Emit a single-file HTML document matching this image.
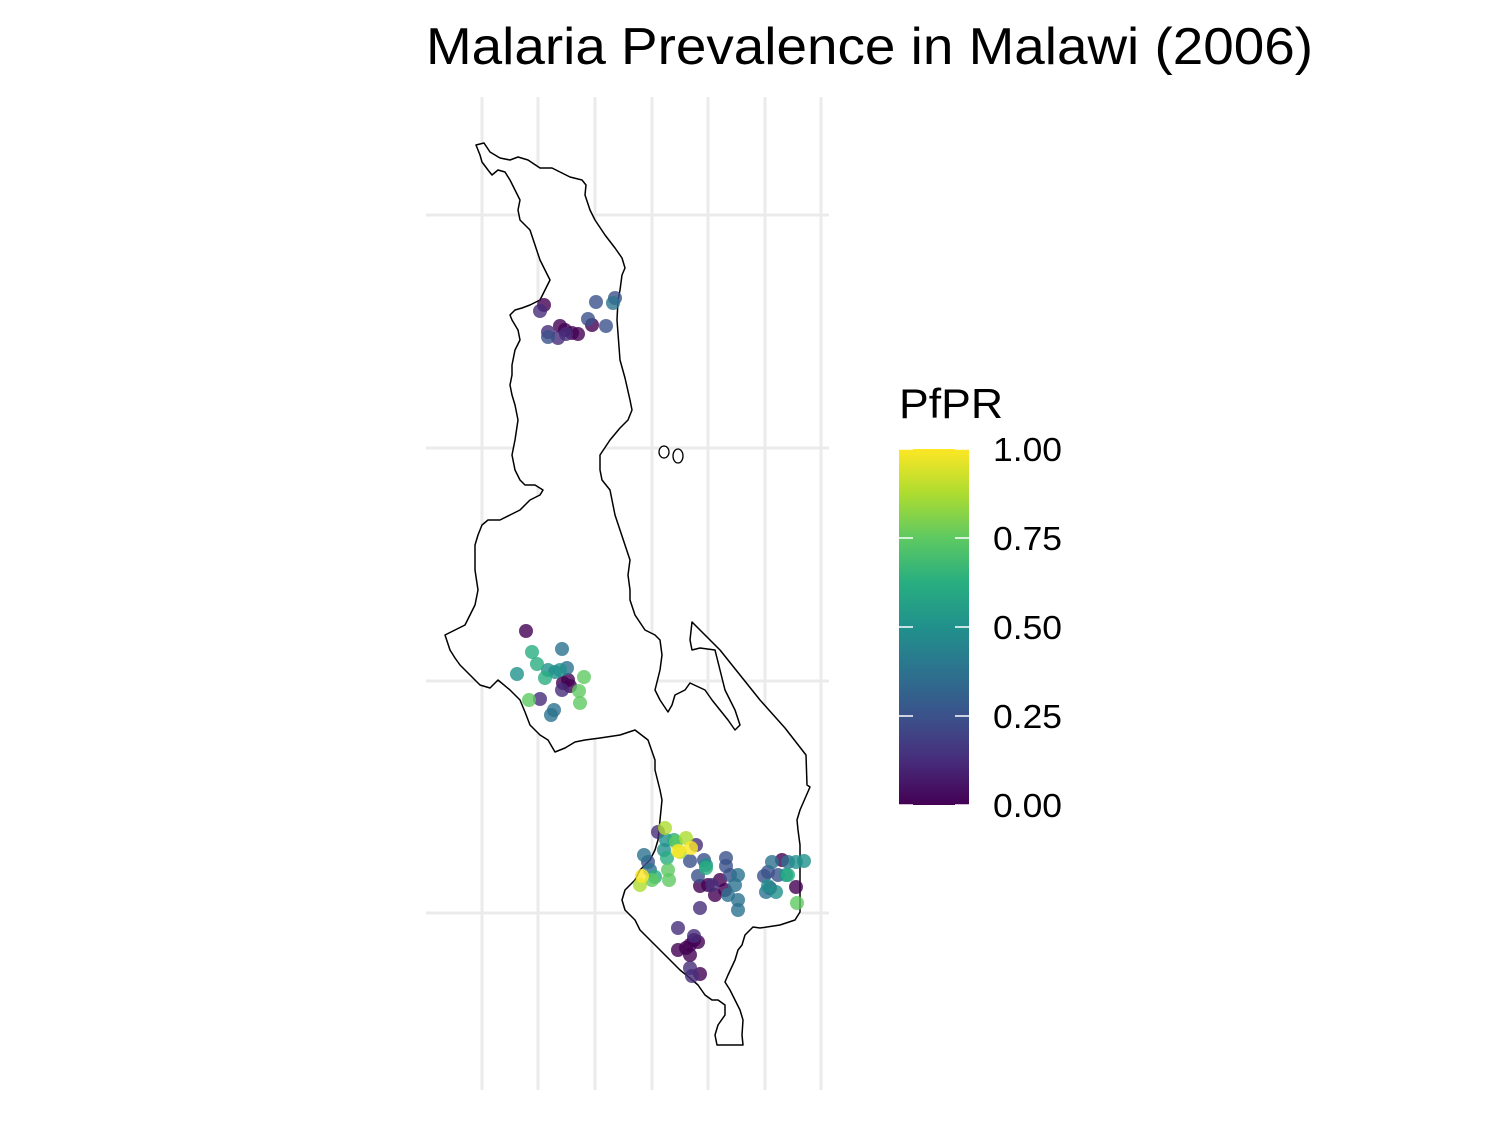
<!DOCTYPE html><html><head><meta charset="utf-8"><style>body{margin:0;background:#fff}svg{display:block}</style></head><body>
<svg width="1500" height="1125" xmlns="http://www.w3.org/2000/svg" font-family="Liberation Sans, sans-serif">
<defs><linearGradient id="v" x1="0" y1="1" x2="0" y2="0">
<stop offset="0" stop-color="#440154"/><stop offset="0.125" stop-color="#472d7b"/><stop offset="0.25" stop-color="#3b528b"/><stop offset="0.375" stop-color="#2c728e"/><stop offset="0.5" stop-color="#21918c"/><stop offset="0.625" stop-color="#28ae80"/><stop offset="0.75" stop-color="#5ec962"/><stop offset="0.875" stop-color="#addc30"/><stop offset="1" stop-color="#fde725"/></linearGradient></defs>
<text x="426" y="64" font-size="52" textLength="887" lengthAdjust="spacingAndGlyphs">Malaria Prevalence in Malawi (2006)</text>
<g stroke="#ebebeb" stroke-width="3">
<line x1="482" y1="97" x2="482" y2="1090"/><line x1="538" y1="97" x2="538" y2="1090"/><line x1="595" y1="97" x2="595" y2="1090"/><line x1="652" y1="97" x2="652" y2="1090"/><line x1="708" y1="97" x2="708" y2="1090"/><line x1="765" y1="97" x2="765" y2="1090"/><line x1="821" y1="97" x2="821" y2="1090"/>
<line x1="426" y1="215" x2="829" y2="215"/><line x1="426" y1="448" x2="829" y2="448"/><line x1="426" y1="681" x2="829" y2="681"/><line x1="426" y1="913" x2="829" y2="913"/></g>
<path fill="#fff" stroke="#000" stroke-width="1.5" stroke-linejoin="round" d="M476,145 L484,143 490,152 500,158 510,160 518,157 528,160 540,168 552,168 560,172 570,177 582,180 586,185 585,195 590,210 595,220 605,235 615,248 622,258 625,268 622,275 620,290 618,300 617,320 620,360 625,378 630,400 632,410 628,420 620,428 610,440 600,455 600,470 602,480 610,490 612,500 615,515 620,530 625,545 630,560 628,575 630,590 630,600 635,615 645,630 655,635 660,640 662,655 660,670 655,690 660,700 668,712 672,705 675,695 685,690 690,683 705,690 712,700 720,710 728,720 735,730 740,725 735,710 725,690 720,670 715,650 700,648 692,650 690,640 692,622 720,650 760,700 785,728 806,755 807,785 810,787 800,810 797,820 798,830 800,845 800,860 800,885 800,912 795,920 780,925 760,928 753,927 745,935 742,945 738,950 735,960 728,975 725,982 730,990 735,1000 740,1010 743,1020 742,1035 743,1045 717,1045 715,1035 718,1025 725,1015 725,1005 718,1000 712,1000 705,995 698,985 690,978 680,970 670,960 660,950 650,940 640,930 635,920 625,910 622,900 625,890 635,880 640,870 650,860 655,850 658,840 660,820 662,800 660,790 655,770 655,760 648,740 635,730 620,735 600,738 585,740 575,742 565,748 555,752 548,740 540,735 530,725 525,712 520,700 510,690 498,680 490,688 480,685 470,675 460,665 455,658 450,650 445,635 455,630 465,625 470,615 475,605 478,590 475,570 475,545 478,535 482,525 488,520 500,520 510,515 520,510 530,500 540,495 543,490 535,485 525,485 520,480 515,470 512,455 515,440 518,420 515,405 512,395 510,385 512,375 512,365 515,350 520,340 518,330 512,320 510,315 515,310 522,308 530,305 540,300 545,290 550,280 545,270 540,260 535,245 530,230 520,220 518,210 520,200 515,190 510,180 505,172 498,170 492,175 488,170 482,162 480,155 Z"/>
<g fill="#fff" stroke="#000" stroke-width="1.3"><ellipse cx="664" cy="452" rx="5" ry="6"/><ellipse cx="678" cy="456" rx="5" ry="7"/></g>
<g fill-opacity="0.8" stroke-opacity="0.8">
<g fill="#440154"><circle cx="544" cy="305" r="7"/><circle cx="578" cy="334" r="7"/><circle cx="592" cy="325" r="7"/><circle cx="565" cy="330" r="7"/><circle cx="560" cy="326" r="7"/><circle cx="572" cy="333" r="7"/><circle cx="526" cy="631" r="7"/><circle cx="563" cy="683" r="7"/><circle cx="568" cy="680" r="7"/><circle cx="570" cy="686" r="7"/><circle cx="690" cy="945" r="7"/><circle cx="694" cy="940" r="7"/><circle cx="686" cy="948" r="7"/><circle cx="698" cy="942" r="7"/><circle cx="690" cy="955" r="7"/><circle cx="700" cy="886" r="7"/><circle cx="715" cy="895" r="7"/><circle cx="720" cy="880" r="7"/><circle cx="708" cy="885" r="7"/><circle cx="725" cy="890" r="7"/><circle cx="796" cy="887" r="7"/><circle cx="782" cy="860" r="7"/><circle cx="678" cy="950" r="7"/><circle cx="700" cy="974" r="7"/></g>
<g fill="#472d7b"><circle cx="540" cy="311" r="7"/><circle cx="548" cy="332" r="7"/><circle cx="558" cy="338" r="7"/><circle cx="566" cy="334" r="7"/><circle cx="562" cy="690" r="7"/><circle cx="540" cy="699" r="7"/><circle cx="678" cy="928" r="7"/><circle cx="690" cy="968" r="7"/><circle cx="692" cy="976" r="7"/><circle cx="700" cy="908" r="7"/><circle cx="658" cy="832" r="7"/><circle cx="696" cy="845" r="7"/><circle cx="770" cy="888" r="7"/><circle cx="712" cy="885" r="7"/><circle cx="694" cy="936" r="7"/></g>
<g fill="#3b528b"><circle cx="548" cy="337" r="7"/><circle cx="596" cy="302" r="7"/><circle cx="606" cy="326" r="7"/><circle cx="588" cy="319" r="7"/><circle cx="615" cy="298" r="7"/><circle cx="698" cy="876" r="7"/><circle cx="704" cy="860" r="7"/><circle cx="726" cy="858" r="7"/><circle cx="730" cy="875" r="7"/><circle cx="768" cy="872" r="7"/><circle cx="778" cy="875" r="7"/><circle cx="764" cy="876" r="7"/><circle cx="726" cy="866" r="7"/><circle cx="690" cy="861" r="7"/><circle cx="648" cy="862" r="7"/></g>
<g fill="#2c728e"><circle cx="613" cy="303" r="7"/><circle cx="562" cy="649" r="7"/><circle cx="567" cy="668" r="7"/><circle cx="554" cy="710" r="7"/><circle cx="551" cy="715" r="7"/><circle cx="644" cy="855" r="7"/><circle cx="650" cy="870" r="7"/><circle cx="738" cy="910" r="7"/><circle cx="738" cy="900" r="7"/><circle cx="735" cy="885" r="7"/><circle cx="738" cy="875" r="7"/><circle cx="772" cy="862" r="7"/><circle cx="788" cy="862" r="7"/><circle cx="766" cy="892" r="7"/><circle cx="728" cy="895" r="7"/></g>
<g fill="#21918c"><circle cx="517" cy="674" r="7"/><circle cx="548" cy="670" r="7"/><circle cx="555" cy="672" r="7"/><circle cx="560" cy="670" r="7"/><circle cx="706" cy="865" r="7"/><circle cx="664" cy="850" r="7"/><circle cx="666" cy="840" r="7"/><circle cx="796" cy="862" r="7"/><circle cx="804" cy="861" r="7"/><circle cx="776" cy="892" r="7"/><circle cx="768" cy="886" r="7"/><circle cx="786" cy="875" r="7"/></g>
<g fill="#28ae80"><circle cx="532" cy="652" r="7"/><circle cx="537" cy="664" r="7"/><circle cx="545" cy="678" r="7"/><circle cx="655" cy="877" r="7"/><circle cx="667" cy="858" r="7"/><circle cx="674" cy="840" r="7"/><circle cx="706" cy="868" r="7"/><circle cx="788" cy="875" r="7"/></g>
<g fill="#5ec962"><circle cx="584" cy="677" r="7"/><circle cx="579" cy="691" r="7"/><circle cx="580" cy="703" r="7"/><circle cx="529" cy="700" r="7"/><circle cx="668" cy="870" r="7"/><circle cx="669" cy="880" r="7"/><circle cx="652" cy="880" r="7"/><circle cx="676" cy="842" r="7"/><circle cx="797" cy="903" r="7"/></g>
<g fill="#addc30"><circle cx="665" cy="828" r="7"/><circle cx="686" cy="838" r="7"/><circle cx="640" cy="885" r="7"/><circle cx="680" cy="852" r="7"/></g>
<g fill="#fde725"><circle cx="678" cy="851" r="7"/><circle cx="691" cy="848" r="7"/><circle cx="642" cy="876" r="7"/></g>
</g>
<text x="899" y="418" font-size="42" textLength="104" lengthAdjust="spacingAndGlyphs">PfPR</text>
<rect x="899" y="449" width="70" height="356" fill="url(#v)"/>
<g stroke="#fff" stroke-width="1.5">
<line x1="899" y1="538" x2="913" y2="538"/><line x1="955" y1="538" x2="969" y2="538"/>
<line x1="899" y1="627" x2="913" y2="627"/><line x1="955" y1="627" x2="969" y2="627"/>
<line x1="899" y1="716" x2="913" y2="716"/><line x1="955" y1="716" x2="969" y2="716"/>
<line x1="899" y1="805" x2="913" y2="805"/><line x1="955" y1="805" x2="969" y2="805"/>
<line x1="899" y1="449" x2="913" y2="449"/><line x1="955" y1="449" x2="969" y2="449"/></g>
<g font-size="33" fill="#000">
<text x="993" y="461" textLength="69" lengthAdjust="spacingAndGlyphs">1.00</text><text x="993" y="550" textLength="69" lengthAdjust="spacingAndGlyphs">0.75</text><text x="993" y="639" textLength="69" lengthAdjust="spacingAndGlyphs">0.50</text><text x="993" y="728" textLength="69" lengthAdjust="spacingAndGlyphs">0.25</text><text x="993" y="817" textLength="69" lengthAdjust="spacingAndGlyphs">0.00</text></g>
</svg></body></html>
